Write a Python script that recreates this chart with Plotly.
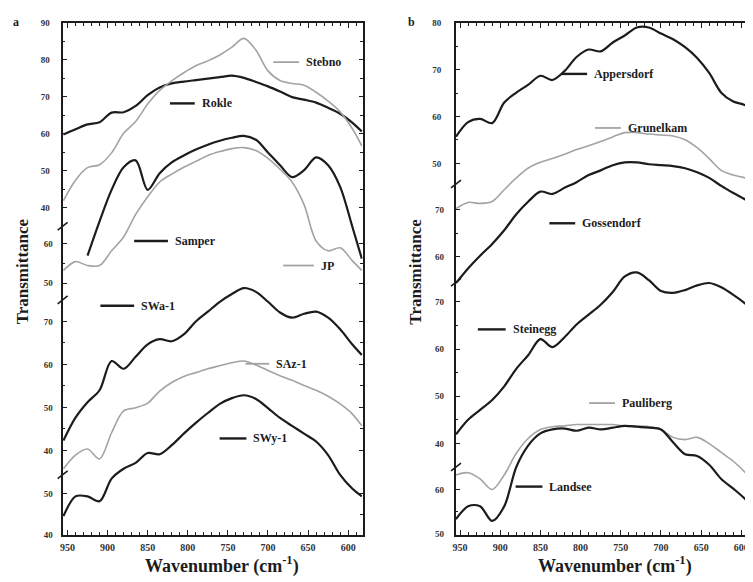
import plotly.graph_objects as go

# ---------------- data ----------------
wavenumber_a = [955, 940, 925, 910, 895, 880, 865, 850, 835, 820, 805, 790, 775,
                760, 745, 730, 715, 700, 685, 670, 655, 640, 625, 610, 595, 583]
wavenumber_b = [955, 940, 925, 910, 895, 880, 865, 850, 835, 820, 805, 790, 775,
                760, 745, 730, 715, 700, 685, 670, 655, 640, 625, 610, 595, 588]

# panel a
rokle = [59.8, 61.2, 62.5, 63.1, 65.7, 65.8, 67.5, 70.4, 72.5, 73.6, 74.1, 74.5, 74.9,
         75.3, 75.7, 75.1, 74.0, 72.8, 71.4, 69.9, 69.2, 68.4, 67.0, 65.4, 63.0, 60.6]
stebno = [41.9, 47.4, 50.8, 51.6, 54.8, 60.1, 63.3, 68.0, 71.7, 74.3, 76.5, 78.4, 79.7,
          81.3, 83.4, 85.8, 82.6, 77.0, 74.4, 73.6, 73.1, 71.2, 68.8, 65.9, 61.4, 56.7]
samper = [None, None, 57.0, 65.75, 73.75, 79.5, 81.25, 73.75, 78.0, 80.75, 82.5, 84.0, 85.25,
          86.25, 87.0, 87.5, 86.5, 83.25, 80.0, 77.0, 78.75, 82.0, 80.0, 74.5, 64.5, 56.25]
jp = [53.25, 55.5, 54.5, 54.5, 58.25, 61.75, 67.5, 72.0, 75.75, 77.75, 79.5, 81.0, 82.5,
      83.5, 84.25, 84.5, 83.75, 81.75, 79.0, 75.75, 70.0, 60.75, 58.25, 59.0, 55.75, 53.25]
swa1 = [42.3, 47.6, 51.2, 54.0, 60.8, 59.0, 61.8, 64.7, 65.9, 65.4, 67.0, 70.0, 72.3,
        74.6, 76.4, 77.8, 76.9, 74.6, 72.1, 70.9, 71.8, 72.3, 70.9, 68.2, 64.7, 62.2]
saz1 = [35.7, 38.9, 40.3, 38.0, 44.1, 49.2, 49.9, 51.0, 53.8, 55.8, 57.2, 58.1, 59.0,
        59.7, 60.4, 60.8, 59.9, 58.6, 57.4, 56.3, 55.1, 54.0, 52.6, 50.8, 48.5, 45.7]
swy1 = [44.5, 49.3, 49.3, 48.1, 53.6, 56.0, 57.4, 59.8, 59.5, 61.7, 64.5, 67.1, 69.5,
        71.7, 73.1, 73.8, 72.9, 70.7, 68.3, 66.4, 64.5, 62.6, 59.3, 54.5, 51.2, 49.3]

# panel b
appersdorf = [55.7, 58.8, 59.5, 58.6, 63.0, 65.1, 66.8, 68.7, 67.8, 69.7, 72.7, 74.3, 73.9,
              75.8, 77.3, 79.0, 79.0, 77.7, 76.5, 74.8, 72.5, 69.3, 65.1, 63.2, 62.4, 61.2]
grunelkam = [70.2, 71.5, 71.3, 71.7, 74.2, 76.7, 78.8, 80.0, 80.8, 81.7, 82.7, 83.5, 84.4,
             85.4, 86.3, 86.3, 86.0, 85.8, 85.6, 84.8, 83.1, 80.8, 78.3, 77.3, 76.7, 76.3]
gossendorf = [54.4, 57.5, 60.2, 62.7, 65.6, 69.0, 71.7, 73.8, 73.3, 74.6, 75.8, 77.3, 78.3,
              79.4, 80.0, 80.0, 79.6, 79.4, 79.2, 78.75, 77.9, 76.7, 75.0, 73.5, 72.1, 71.25]
steinegg = [41.9, 45.0, 47.1, 49.2, 52.1, 55.8, 58.75, 62.1, 60.4, 62.5, 65.2, 67.3, 69.4,
            72.1, 75.4, 76.25, 74.6, 72.3, 71.9, 72.5, 73.5, 74.0, 73.1, 71.5, 69.6, 68.3]
pauliberg = [63.3, 63.8, 62.4, 60.0, 63.3, 68.2, 71.6, 73.6, 74.2, 74.4, 74.7, 74.7, 74.7,
             74.7, 74.4, 74.4, 74.2, 73.6, 71.8, 71.3, 71.8, 70.4, 68.4, 66.4, 63.8, 62.2]
landsee = [53.3, 56.2, 56.2, 52.9, 56.2, 65.1, 70.0, 72.7, 73.6, 73.8, 73.3, 74.0, 73.6,
           74.0, 74.4, 74.2, 74.0, 73.6, 70.7, 68.0, 67.6, 65.6, 62.4, 60.2, 57.8, 56.2]

# tick labels per axis segment
ticks_a1, minor_a1 = [90, 80, 70, 60, 50, 40], [85, 75, 65, 55, 45]
ticks_a2, minor_a2 = [60, 50], [55]
ticks_a3, minor_a3 = [70, 60, 50, 40], [65, 55, 45]
ticks_a4, minor_a4 = [50, 40], [45]
ticks_b1, minor_b1 = [80, 70, 60, 50], [75, 65, 55]
ticks_b2, minor_b2 = [70, 60], [65]
ticks_b3, minor_b3 = [70, 60, 50, 40], [65, 55, 45]
ticks_b4, minor_b4 = [60, 50], [55]
x_ticks = [950, 900, 850, 800, 750, 700, 650, 600]

# ---------------- layout helpers ----------------
# the page body keeps an 8px margin, so the figure is placed 8px in from the window corner
OFF = 8
W, H = 753 - OFF, 582 - OFF
TOP, BOT = 18, 539          # window pixel rows of the plot frame
def fx(px): return (px - OFF) / W
def fy(py): return 1 - (py - OFF) / H

BLACK = '#1c1c1c'
GRAY = '#a3a3a3'
FONT = 'Liberation Serif'

fig = go.Figure()

# segment scale: (reference value, window row of that value, pixels per unit)
segments = {
    'y':  (90, 18, 3.76, ticks_a1, minor_a1, 'x'),
    'y2': (60, 243, 4.0, ticks_a2, minor_a2, 'x'),
    'y3': (70, 322, 4.37, ticks_a3, minor_a3, 'x'),
    'y4': (50, 497, 4.2, ticks_a4, minor_a4, 'x'),
    'y5': (80, 18, 4.77, ticks_b1, minor_b1, 'x2'),
    'y6': (70, 208, 4.8, ticks_b2, minor_b2, 'x2'),
    'y7': (70, 302, 4.8, ticks_b3, minor_b3, 'x2'),
    'y8': (60, 493, 4.5, ticks_b4, minor_b4, 'x2'),
}

series = [
    ('Rokle', wavenumber_a, rokle, BLACK, 'x', 'y'),
    ('Stebno', wavenumber_a, stebno, GRAY, 'x', 'y'),
    ('Samper', wavenumber_a, samper, BLACK, 'x', 'y2'),
    ('JP', wavenumber_a, jp, GRAY, 'x', 'y2'),
    ('SWa-1', wavenumber_a, swa1, BLACK, 'x', 'y3'),
    ('SAz-1', wavenumber_a, saz1, GRAY, 'x', 'y3'),
    ('SWy-1', wavenumber_a, swy1, BLACK, 'x', 'y4'),
    ('Appersdorf', wavenumber_b, appersdorf, BLACK, 'x2', 'y5'),
    ('Grunelkam', wavenumber_b, grunelkam, GRAY, 'x2', 'y6'),
    ('Gossendorf', wavenumber_b, gossendorf, BLACK, 'x2', 'y6'),
    ('Steinegg', wavenumber_b, steinegg, BLACK, 'x2', 'y7'),
    ('Pauliberg', wavenumber_b, pauliberg, GRAY, 'x2', 'y8'),
    ('Landsee', wavenumber_b, landsee, BLACK, 'x2', 'y8'),
]

for name, xs, ys, col, xa, ya in series:
    fig.add_trace(go.Scatter(
        x=xs, y=ys, name=name, mode='lines', xaxis=xa, yaxis=ya,
        line=dict(color=col, width=2.2 if col == BLACK else 1.6,
                  shape='spline', smoothing=0.9),
        showlegend=False, hoverinfo='skip'))

ytickfont = dict(family=FONT, size=9, color='#333', weight='bold')
xtickfont = dict(family=FONT, size=10, color='#333', weight='bold')
layout = dict(
    width=W, height=H, margin=dict(l=0, r=0, t=0, b=0),
    paper_bgcolor='white', plot_bgcolor='white', showlegend=False,
)

for key, (ref, at, ppu, tv, mv, xa) in segments.items():
    lo = ref - (BOT - at) / ppu
    hi = ref + (at - TOP) / ppu
    primary = key in ('y', 'y5')
    ax = dict(
        domain=[fy(BOT), fy(TOP)], range=[lo, hi], anchor=xa,
        tickvals=tv, ticktext=[str(v) for v in tv], tickfont=ytickfont,
        ticks='inside', ticklen=4, tickwidth=1.2, tickcolor=BLACK,
        minor=dict(tickvals=mv, ticks='inside', ticklen=2.5, tickwidth=1, tickcolor=BLACK),
        showgrid=False, zeroline=False, mirror='ticks', side='left',
        showline=primary, linecolor=BLACK, linewidth=2,
        ticklabelstandoff=9 if xa == 'x' else 11,
    )
    if not primary:
        ax['overlaying'] = 'y' if xa == 'x' else 'y5'
    layout['yaxis' if key == 'y' else 'yaxis' + key[1:]] = ax

def xaxis(domain, rng, anchor):
    return dict(
        domain=domain, range=rng, anchor=anchor,
        tickvals=x_ticks, ticktext=[str(v) for v in x_ticks], tickfont=xtickfont,
        ticks='inside', ticklen=5, tickwidth=1.2, tickcolor=BLACK,
        minor=dict(dtick=10, tick0=600, ticks='inside', ticklen=3, tickwidth=1, tickcolor=BLACK),
        showgrid=False, zeroline=False, showline=True, linecolor=BLACK,
        linewidth=2, mirror='ticks', ticklabelstandoff=2)

layout['xaxis'] = xaxis([fx(60), fx(362)], [956, 582], 'y')
layout['xaxis2'] = xaxis([fx(456), 1.0], [955, 588], 'y5')
fig.update_layout(**layout)

# ---------------- decorations ----------------
shapes = []
annotations = []
# axis break marks
for xpx, rows in ((60, (225, 300, 478)), (456, (182, 282, 470))):
    for r in rows:
        shapes.append(dict(type='line', xref='paper', yref='paper',
                           x0=fx(xpx - 5), y0=fy(r + 4), x1=fx(xpx + 5), y1=fy(r - 4),
                           line=dict(color=BLACK, width=1.6)))

# inline curve labels: (name, colour, line x0, line x1, row)
labels = [
    ('Stebno', GRAY, 272, 298, 58), ('Rokle', BLACK, 168, 193, 100),
    ('Samper', BLACK, 132, 166, 240), ('JP', GRAY, 282, 313, 265),
    ('SWa-1', BLACK, 98, 132, 306), ('SAz-1', GRAY, 244, 268, 365),
    ('SWy-1', BLACK, 218, 245, 441),
    ('Appersdorf', BLACK, 562, 588, 70), ('Grunelkam', GRAY, 596, 622, 125),
    ('Gossendorf', BLACK, 550, 576, 222), ('Steinegg', BLACK, 478, 506, 330),
    ('Pauliberg', GRAY, 590, 616, 405), ('Landsee', BLACK, 516, 543, 490),
]
for name, col, x0, x1, row in labels:
    shapes.append(dict(type='line', xref='paper', yref='paper',
                       x0=fx(x0), x1=fx(x1), y0=fy(row), y1=fy(row),
                       line=dict(color=col, width=2.4 if col == BLACK else 1.8)))
    annotations.append(dict(text=name, xref='paper', yref='paper', x=fx(x1 + 5), y=fy(row),
                            xanchor='left', yanchor='middle', showarrow=False,
                            font=dict(family=FONT, size=12, color=BLACK, weight='bold')))

for txt, xpx in (('a', 13), ('b', 411)):
    annotations.append(dict(text=txt, xref='paper', yref='paper', x=fx(xpx), y=fy(17),
                            xanchor='center', yanchor='middle', showarrow=False,
                            font=dict(family=FONT, size=12, color=BLACK, weight='bold')))
for xpx in (19, 415):
    annotations.append(dict(text='Transmittance', xref='paper', yref='paper', x=fx(xpx), y=fy(271),
                            xanchor='center', yanchor='middle', showarrow=False, textangle=-90,
                            font=dict(family=FONT, size=17, color=BLACK, weight='bold')))
for xpx in (220, 616):
    annotations.append(dict(text='Wavenumber (cm<sup>-1</sup>)', xref='paper', yref='paper',
                            x=fx(xpx), y=fy(570), xanchor='center', yanchor='middle',
                            showarrow=False,
                            font=dict(family=FONT, size=18, color=BLACK, weight='bold')))

fig.update_layout(shapes=shapes, annotations=annotations)
fig.write_html('out.html')
